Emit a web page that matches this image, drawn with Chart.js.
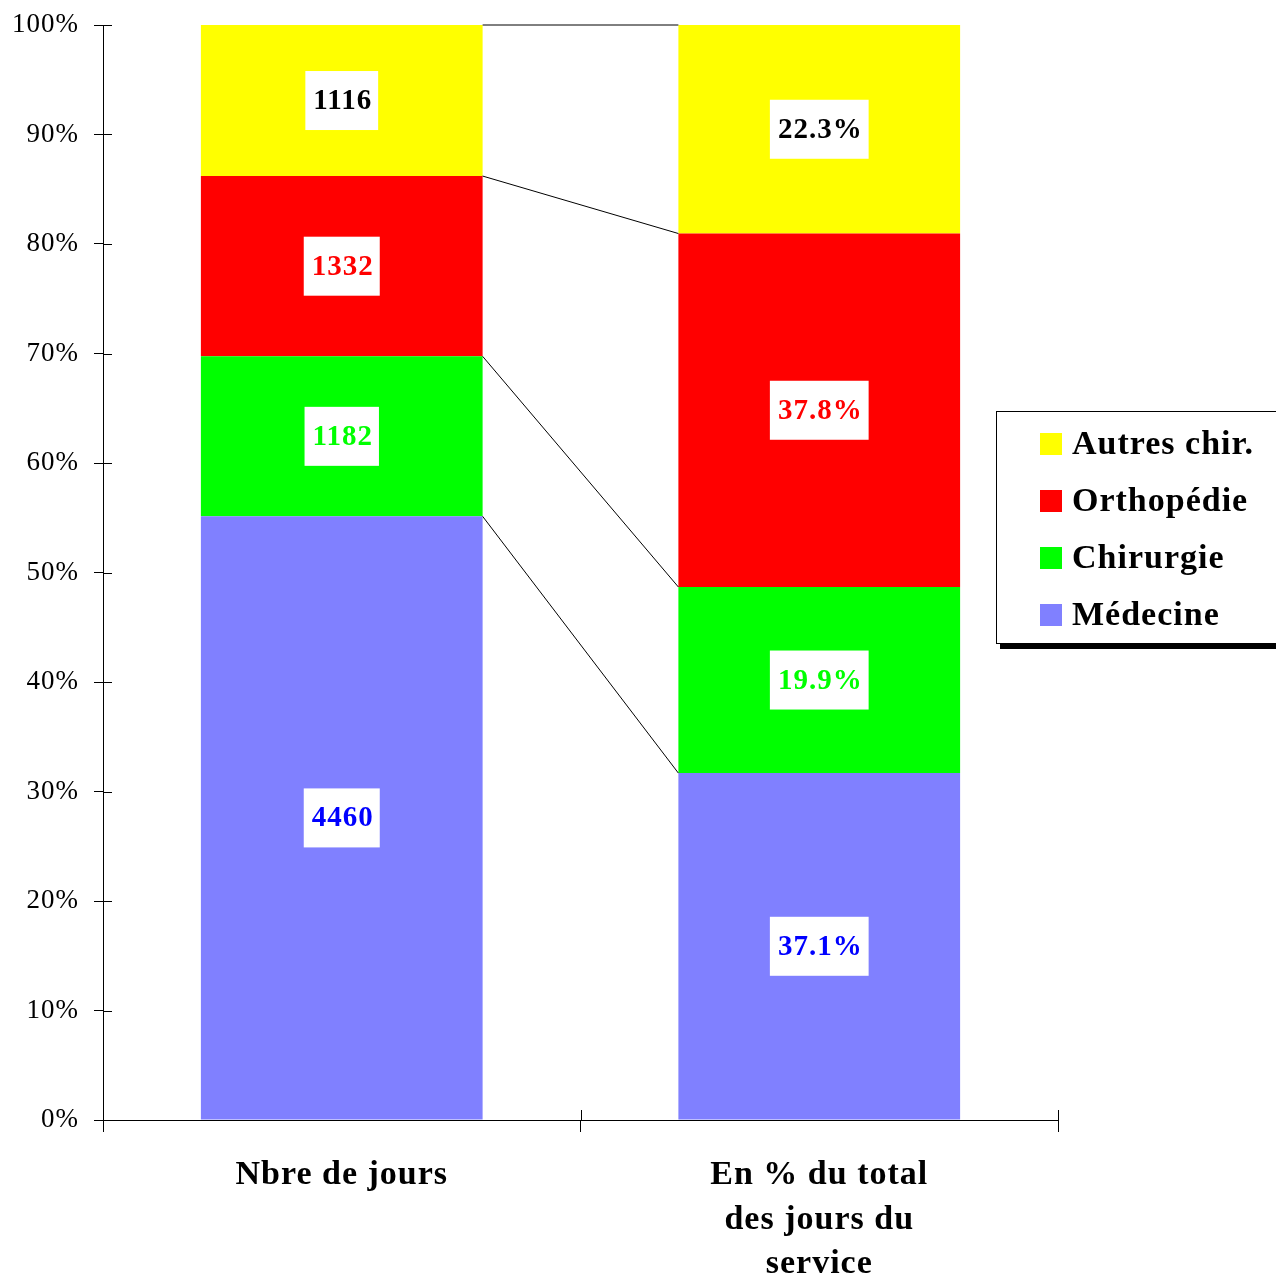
<!DOCTYPE html>
<html>
<head>
<meta charset="utf-8">
<script src="https://cdn.jsdelivr.net/npm/chart.js@4"></script>
<style>
  html, body { margin: 0; padding: 0; background: #fff; }
  #wrap { width: 1276px; height: 1274px; }
</style>
</head>
<body>
<div id="wrap"><canvas id="daysChart" width="1276" height="1274"></canvas></div>
<script>
// categories and raw values (bottom to top of the stack)
const categories = [['Nbre de jours'], ['En % du total', 'des jours du', 'service']];
const seriesNames = ['Médecine', 'Chirurgie', 'Orthopédie', 'Autres chir.'];
const medecine = [4460, 37.1];
const chirurgie = [1182, 19.9];
const orthopedie = [1332, 37.8];
const autres = [1116, 22.3];
const yTicks = [0, 10, 20, 30, 40, 50, 60, 70, 80, 90, 100];

const fillColors = ['#8080FF', '#00FF00', '#FF0000', '#FFFF00'];
const labelColors = ['#0000FF', '#00FF00', '#FF0000', '#000000'];
const serif = "'Liberation Serif', 'Times New Roman', serif";

const raw = [medecine, chirurgie, orthopedie, autres];
const totals = categories.map((c, i) => raw.reduce((s, r) => s + r[i], 0));

// label text: raw count in first bar, percent in second
function labelText(value, catIndex) {
  return catIndex === 0 ? String(value) : value.toFixed(1) + '%';
}

const datasets = raw.map((vals, k) => ({
  label: seriesNames[k],
  data: vals.map((v, i) => v / totals[i] * 100),
  rawValues: vals,
  backgroundColor: fillColors[k],
  borderWidth: 0,
  categoryPercentage: 1,
  barPercentage: 0.59
}));

// the old office look has a bit of tracking on all text
const spacing = {
  id: 'spacing',
  beforeUpdate(chart) { chart.ctx.letterSpacing = '1px'; },
  beforeDraw(chart) { chart.ctx.letterSpacing = '1px'; }
};

// ticks that cross the axis lines
const innerTicks = {
  id: 'innerTicks',
  afterDraw(chart) {
    const ctx = chart.ctx;
    const y = chart.scales.y;
    const area = chart.chartArea;
    ctx.save();
    ctx.strokeStyle = '#000';
    ctx.lineWidth = 1;
    ctx.beginPath();
    yTicks.forEach(v => {
      const py = Math.round(y.getPixelForValue(v)) + 0.5;
      ctx.moveTo(area.left, py);
      ctx.lineTo(area.left + 9, py);
    });
    const n = chart.data.labels.length;
    for (let i = 0; i <= n; i++) {
      const px = Math.round(area.left + (area.right - area.left) * i / n) + 0.5;
      ctx.moveTo(px, area.bottom);
      ctx.lineTo(px, area.bottom - 10);
    }
    ctx.stroke();
    ctx.restore();
  }
};

// lines joining the segment tops between the two bars
const seriesLines = {
  id: 'seriesLines',
  afterDatasetsDraw(chart) {
    const ctx = chart.ctx;
    ctx.save();
    ctx.strokeStyle = '#000';
    ctx.lineWidth = 1;
    chart.data.datasets.forEach((ds, k) => {
      const bars = chart.getDatasetMeta(k).data;
      const a = bars[0], b = bars[1];
      ctx.beginPath();
      ctx.moveTo(a.x + a.width / 2, a.y);
      ctx.lineTo(b.x - b.width / 2, b.y);
      ctx.stroke();
    });
    ctx.restore();
  }
};

// white boxed value labels
const valueLabels = {
  id: 'valueLabels',
  afterDatasetsDraw(chart) {
    const ctx = chart.ctx;
    ctx.save();
    ctx.letterSpacing = '1px';
    ctx.font = 'bold 29px ' + serif;
    ctx.textAlign = 'center';
    ctx.textBaseline = 'middle';
    chart.data.datasets.forEach((ds, k) => {
      chart.getDatasetMeta(k).data.forEach((bar, i) => {
        const txt = labelText(ds.rawValues[i], i);
        const w = ctx.measureText(txt).width + 14;
        const h = 59;
        const cy = (bar.y + bar.base) / 2;
        ctx.fillStyle = '#fff';
        ctx.fillRect(bar.x - w / 2, cy - h / 2, w, h);
        ctx.fillStyle = labelColors[k];
        ctx.fillText(txt, bar.x + 1, cy + 1);
      });
    });
    ctx.restore();
  }
};

// legend box at right with shadow, items in reverse order
const boxLegend = {
  id: 'boxLegend',
  afterDraw(chart) {
    const ctx = chart.ctx;
    const x0 = 996, y0 = 411, w = 300, h = 232;
    ctx.save();
    ctx.fillStyle = '#000';
    ctx.fillRect(x0 + 4, y0 + h + 1, w, 5);
    ctx.fillStyle = '#fff';
    ctx.fillRect(x0, y0, w, h);
    ctx.strokeStyle = '#000';
    ctx.lineWidth = 1;
    ctx.strokeRect(x0 + 0.5, y0 + 0.5, w, h);
    ctx.letterSpacing = '1px';
    ctx.font = 'bold 34px ' + serif;
    ctx.textBaseline = 'middle';
    ctx.textAlign = 'left';
    const n = chart.data.datasets.length;
    for (let j = 0; j < n; j++) {
      const ds = chart.data.datasets[n - 1 - j];
      const cy = y0 + 33 + j * 57;
      ctx.fillStyle = ds.backgroundColor;
      ctx.fillRect(x0 + 44, cy - 11, 22, 22);
      ctx.fillStyle = '#000';
      ctx.fillText(ds.label, x0 + 76, cy + 1);
    }
    ctx.restore();
  }
};

const ctx = document.getElementById('daysChart').getContext('2d');
new Chart(ctx, {
  type: 'bar',
  data: { labels: categories, datasets: datasets },
  plugins: [spacing, innerTicks, seriesLines, valueLabels, boxLegend],
  options: {
    responsive: false,
    animation: false,
    layout: { padding: { top: 25, right: 218, left: 0, bottom: 0 } },
    plugins: {
      legend: { display: false },
      tooltip: { enabled: false }
    },
    scales: {
      x: {
        stacked: true,
        grid: { display: true, drawOnChartArea: false, offset: true, color: '#000', tickLength: 12 },
        border: { display: true, color: '#000', width: 1 },
        ticks: {
          color: '#000',
          padding: 21,
          font: { family: serif, size: 34, weight: 'bold', lineHeight: 1.31 },
          maxRotation: 0
        },
        afterFit(scale) { scale.height = 154; }
      },
      y: {
        stacked: true,
        min: 0,
        max: 100,
        afterBuildTicks(scale) { scale.ticks = yTicks.map(v => ({ value: v })); },
        grid: { display: true, drawOnChartArea: false, color: '#000', tickLength: 9 },
        border: { display: true, color: '#000', width: 1 },
        ticks: {
          color: '#000',
          padding: 15,
          font: { family: serif, size: 27 },
          callback: v => v + '%'
        },
        afterFit(scale) {
          scale.width = 103;
          scale.paddingTop = 0;
          scale.paddingBottom = 0;
        }
      }
    }
  }
});
</script>
</body>
</html>
